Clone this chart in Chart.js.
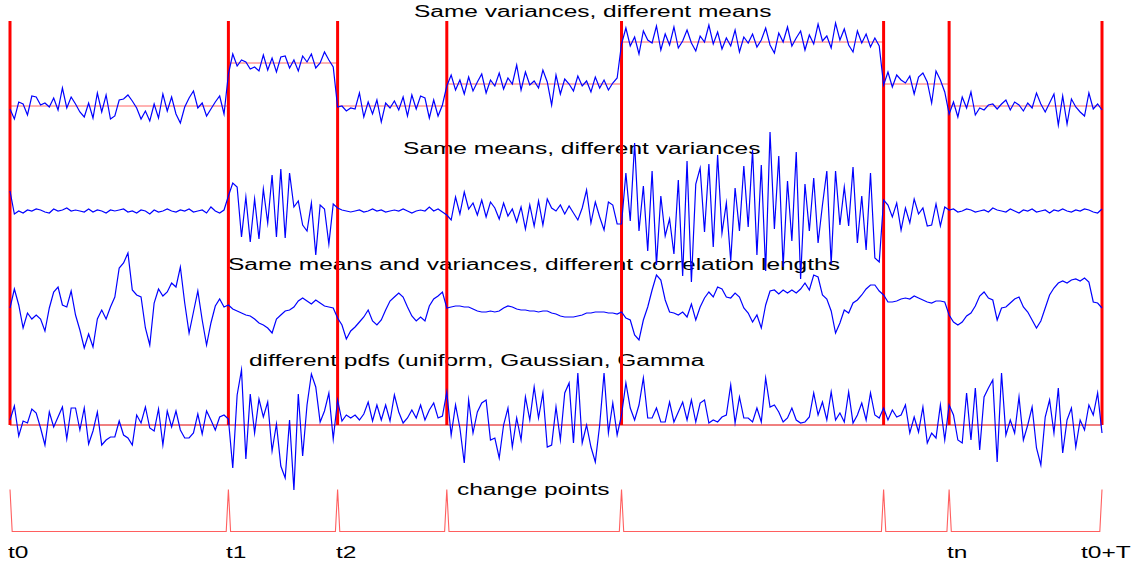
<!DOCTYPE html>
<html>
<head>
<meta charset="utf-8">
<script src="https://cdn.jsdelivr.net/npm/chart.js@4.4.1/dist/chart.umd.min.js"></script>
<style>
    html, body { margin: 0; padding: 0; background: #fff; }
    #wrap { position: relative; width: 1132px; height: 565px; overflow: hidden; }
    #chart { position: absolute; left: 0; top: 0; z-index: 1; }
    .lbl {
        position: absolute; z-index: 0; white-space: nowrap; color: #000;
        font-family: "Liberation Sans", Arial, Helvetica, sans-serif;
        font-size: 16px; line-height: 16px;
        transform: scaleX(1.53); transform-origin: 0 0;
    }
</style>
</head>
<body>
<div id="wrap"><canvas id="chart" width="1132" height="565"></canvas></div>
<script>
// time axis: t0 .. t0+T, one sample every 4 time units
const changePoints = [0, 200, 300, 400, 560, 800, 860, 1000];
const changeLabels = ['t0', 't1', 't2', '', '', '', 'tn', 't0+T'];
const sampleStep = 4;

const panelTitles = [
    'Same variances, different means',
    'Same means, different variances',
    'Same means and variances, different correlation lengths',
    'different pdfs (uniform, Gaussian, Gamma',
    'change points'
];

// segment means of the first signal
const meanLevels = [0, 4.3, 0, 2.2, 6.4, 2.2, 0];

// signal 1: same variances, different means
const sameVarDiffMeans = [
    -0.3, -1.3, 0.4, 0.2, -0.9, 1.0, 0.9, 0.1, 0.3, -0.1,
    0.8, -0.4, 1.8, -0.2, 0.9, 0.2, -0.6, -1.1, 0.3, -1.2,
    1.3, -0.6, 1.1, -1.3, -1.0, 0.6, 0.7, 1.1, 0.5, -0.2,
    -1.3, -0.5, -1.5, 0.2, -1.2, 1.2, -0.5, 0.9, -0.8, -1.7,
    -0.1, 0.8, 1.5, -0.2, 0.3, -1.0, -0.3, 0.4, 1.0, -0.8,
    3.2, 5.2, 4.0, 4.6, 4.4, 3.7, 3.9, 3.5, 5.1, 3.6,
    4.8, 3.4, 4.9, 5.0, 3.8, 4.6, 3.5, 5.0, 4.4, 5.2,
    3.8, 4.3, 5.4, 4.6, 3.9,
    -0.1, 0.0, -0.5, -0.2, -0.3, 1.3, -1.1, 0.4, -0.8, 0.6,
    -1.6, 0.3, -0.2, 0.5, -0.4, 0.9, -1.0, 1.1, -0.3, 1.0,
    0.8, -1.2, 0.6, -1.0, 0.1,
    2.0, 3.1, 1.6, 2.6, 1.2, 2.9, 1.5, 2.4, 3.2, 1.3,
    2.6, 2.0, 3.3, 1.7, 2.8, 2.2, 4.1, 1.6, 3.4, 2.1,
    2.5, 1.8, 3.6, 2.4, 0.1, 3.1, 1.2, 2.7, 2.2, 1.5,
    3.0, 2.0, 2.5, 1.4, 2.9, 1.8, 2.6, 1.6, 2.3, 2.8,
    6.2, 7.8, 6.0, 6.9, 5.2, 7.5, 6.6, 6.3, 8.0, 5.6,
    7.2, 6.1, 7.9, 5.8, 6.5, 7.6, 6.3, 5.5, 7.0, 6.4,
    8.1, 6.2, 7.4, 5.7, 6.8, 6.0, 7.6, 5.4, 6.9, 6.3,
    7.2, 5.9, 6.6, 7.8, 6.1, 5.3, 7.3, 6.4, 7.9, 6.0,
    6.8, 7.5, 5.6, 7.1, 6.2, 8.2, 6.5, 7.0, 5.8, 8.3,
    6.6, 7.7, 6.1, 5.4, 7.5, 6.3, 7.2, 5.9, 6.8, 6.0,
    2.1, 3.4, 1.9, 3.1, 2.6, 2.3, 3.0, 1.2, 2.9, 3.3,
    2.4, 0.3, 3.5, 2.6, 1.4,
    -0.8, 0.4, -1.1, 0.9, -0.2, 1.4, -0.9, -0.2, -0.4, 0.1,
    0.2, -0.3, 0.2, 0.6, -0.4, 0.4, 0.1, -0.5, 0.3, -0.2,
    1.3, 0.2, -0.6, 0.3, 1.2, -1.9, 1.0, -1.8, 0.7, -0.1,
    -0.6, -1.0, 1.3, -0.3, 0.2, -0.4
];

// signal 2: same means, different variances
const sameMeanDiffVars = [
    2.0, -0.3, 0.0, -0.2, 0.1, 0.0, 0.2, 0.1, -0.1, -0.2,
    0.2, 0.0, 0.1, 0.3, 0.0, 0.1, 0.0, -0.1, 0.2, -0.1,
    0.1, 0.0, -0.2, 0.1, 0.0, 0.1, 0.2, -0.1, 0.0, -0.2,
    0.1, 0.0, -0.3, 0.1, -0.1, 0.0, 0.2, 0.0, -0.1, 0.1,
    0.0, 0.2, -0.1, 0.0, 0.1, -0.2, 0.4, 0.0, -0.2, 0.1,
    1.5, 2.8, 2.4, -2.6, 1.4, -3.1, 1.2, -2.8, 2.2, -1.2,
    3.6, -2.6, 4.2, -2.7, 3.8, 0.4, 1.0, -1.4, -2.0, 0.8,
    -4.4, 0.6, 0.2, -3.3, 0.7,
    0.3, 0.1, 0.0, -0.1, 0.0, 0.1, -0.1, 0.0, 0.2, 0.0,
    0.1, -0.1, 0.0, 0.1, 0.0, 0.2, 0.0, -0.2, 0.0, 0.1,
    0.0, 0.4, 0.0, 0.2, -0.1,
    -0.4, -0.9, 1.4, -0.3, 1.9, 0.2, 0.8, -0.4, 1.1, -0.6,
    0.9, 0.3, -0.8, 0.8, -0.5, 0.2, -1.1, 0.4, -1.8, 0.6,
    -1.5, 1.0, -1.4, 1.2, 0.3, 0.0, 0.6, -0.3, 0.5, -0.2,
    -0.9, 0.3, 2.1, -1.2, 0.9, -0.6, -1.9, 0.9, 0.6, -1.3,
    -1.3, 3.8, -1.0, 6.8, -2.0, 2.5, -4.0, 4.0, -5.4, 1.5,
    -2.5, -0.8, -4.3, 3.1, -6.5, 5.0, -7.1, 2.7, 4.3, -2.1,
    4.7, -3.6, 5.6, -2.2, 0.8, -5.0, 2.3, -2.0, 4.5, -1.6,
    6.1, -4.4, 4.6, -6.0, 7.9, -1.8, 5.5, -5.6, 3.0, -3.0,
    5.9, -6.8, 2.7, -2.0, 3.3, -3.2, 0.6, 4.0, -5.3, 4.0,
    -1.4, 2.4, -1.5, 4.4, -3.2, 1.5, -3.9, 3.8, -4.7, -5.1,
    1.1, 0.6, -0.6, 0.8, -1.9, 0.3, -1.2, 1.2, -0.3, 0.3,
    -1.5, -1.4, 0.7, -1.5, 0.4,
    0.1, 0.2, -0.1, 0.0, 0.2, 0.1, -0.1, 0.0, 0.1, -0.1,
    0.3, 0.1, 0.0, -0.1, 0.2, 0.0, -0.2, 0.1, 0.0, 0.2,
    -0.1, 0.0, 0.1, -0.2, 0.1, 0.0, 0.2, 0.0, -0.1, 0.1,
    0.0, 0.2, 0.1, -0.1, -0.2, 0.2
];

// signal 3: same means and variances, different correlation lengths
const diffCorrelation = [
    -0.3, 1.6, 0.0, -2.3, -0.8, -1.4, -1.0, -1.4, -2.6, -0.3,
    1.3, 1.8, 0.0, -0.2, 1.4, -1.0, -2.5, -4.3, -2.9, -4.2,
    -1.4, -0.5, -1.4, -0.2, 0.8, 3.7, 4.2, 5.2, 1.5, 1.0,
    0.8, -2.3, -4.0, 0.2, 1.6, 0.9, 1.3, 2.2, 1.8, 3.8,
    0.2, -2.8, -0.7, 1.4, -1.5, -4.0, -1.8, -0.1, 0.6, -0.2,
    0.0, -0.4, -0.6, -0.8, -1.0, -1.1, -1.4, -1.8, -2.0, -2.3,
    -2.8, -1.4, -1.0, -0.6, -0.5, -0.2, 0.4, 0.7, 0.4, 0.1,
    0.5, 0.2, -0.1, -0.2, -0.3,
    -1.3, -2.0, -3.4, -2.6, -2.2, -1.7, -1.2, -0.5, -1.6, -2.0,
    -1.5, -0.5, 0.4, 0.8, 1.2, 0.8, -0.2, -1.1, -1.6, -1.2,
    -1.6, -0.1, 0.6, 0.9, 1.3,
    -0.3, -0.2, -0.1, -0.1, -0.2, -0.2, -0.4, -0.6, -0.7, -0.7,
    -0.6, -0.7, -0.6, -0.3, -0.1, -0.2, -0.4, -0.5, -0.5, -0.6,
    -0.6, -0.7, -0.6, -0.6, -0.8, -0.9, -1.1, -1.2, -1.2, -1.2,
    -1.1, -1.0, -0.8, -0.8, -0.7, -0.7, -0.7, -0.8, -0.8, -0.9,
    -0.7, -1.3, -1.5, -3.0, -3.5, -1.5, -0.2, 1.5, 3.0, 2.5,
    0.5, -0.7, -0.8, -1.0, -0.7, -1.2, 0.1, -1.5, -0.2, 0.7,
    1.3, 0.8, 1.8, 1.6, 0.8, 0.7, 1.2, 0.8, -0.3, -0.8,
    -1.7, -1.0, -2.3, 0.0, 1.4, 1.5, 1.1, 1.5, 1.2, 1.5,
    1.2, 1.6, 2.2, 1.5, 3.0, 2.8, 1.0, 0.6, -0.6, -2.8,
    -1.8, -0.5, -0.8, 0.2, 0.5, 1.0, 1.6, 2.0, 2.0, 1.4,
    1.0, 0.3, 0.3, 0.4, 0.6, 0.7, 0.6, 0.9, 0.7, 0.5,
    0.3, 0.2, 0.4, 0.4, 0.3,
    -1.0, -1.7, -2.0, -1.7, -1.1, -0.8, -0.1, 0.9, 1.3, 0.7,
    0.5, -1.5, -0.3, -0.2, 0.2, 0.6, 0.8, -0.2, -0.7, -1.5,
    -2.3, -1.6, -0.3, 1.0, 1.7, 2.2, 2.4, 2.2, 2.5, 2.6,
    2.4, 2.7, 2.3, 0.3, 0.2, -0.3
];

// signal 4: different pdfs (uniform, Gaussian, Gamma)
const diffPdfs = [
    0.5, 1.9, -1.1, 0.4, 0.2, 1.6, 1.2, -0.3, -2.0, 1.3,
    -0.2, 0.8, 1.8, -1.4, 1.7, 1.7, -0.5, 1.7, -1.9, -0.6,
    1.3, -2.0, -1.5, -1.2, -1.2, 0.4, -1.0, -1.3, -2.0, 1.0,
    0.2, 1.8, -0.3, -0.6, 1.6, -2.0, 1.4, -0.2, 1.4, -0.5,
    -1.3, -1.3, -0.8, 1.1, -0.9, 1.4, 0.5, -0.5, 0.8, 1.0,
    0.6, -4.3, 3.0, 5.5, -3.4, 3.1, -0.8, 2.6, 0.8, 2.3,
    -2.6, 0.1, -4.1, -5.3, 0.5, -6.5, 3.1, -3.1, 2.0, 5.1,
    3.8, 0.3, 1.4, 3.2, -1.4,
    2.5, 0.4, 1.0, 0.7, 1.0, 0.5, 1.1, 2.3, 0.4, 2.0,
    0.5, 2.0, 0.4, 3.0, 1.3, 0.2, 0.7, 1.5, 0.7, 2.0,
    0.5, 1.5, 2.2, 0.7, 0.9,
    3.3, -1.0, 2.0, -0.3, -3.8, 2.5, -0.8, 1.3, 2.2, 2.5,
    -1.5, -1.3, -3.3, 0.0, 1.7, -2.2, 0.7, -1.5, 2.8, 0.5,
    3.8, 0.7, 3.2, -2.2, -2.0, 1.8, -1.5, 3.2, 4.2, -1.8,
    5.2, -1.8, 0.0, -2.2, -3.7, 0.0, 5.2, -0.8, 2.2, -1.0,
    1.0, 4.2, 1.7, 0.5, 2.0, 4.7, 0.7, 0.7, 1.7, 0.3,
    0.3, 2.3, 0.3, 1.3, 2.3, 0.5, 2.5, 0.3, 2.2, 2.5,
    0.2, 0.5, 0.3, 0.8, 1.0, 4.0, 0.2, 2.8, 0.7, 0.7,
    0.3, 1.7, 0.3, 4.7, 1.8, 2.0, 1.3, 0.3, 0.7, 1.7,
    0.5, 0.2, 0.3, 0.8, 3.2, 1.0, 2.3, 0.5, 3.3, 0.5,
    1.2, 0.3, 3.3, 0.2, 1.0, 2.2, 0.5, 3.2, 1.0, 0.7,
    1.7, 0.5, 1.5, 0.8, 1.0, 2.0, -0.8, 0.8, -0.7, 1.8,
    -1.8, -0.8, -1.3, 2.0, -1.5,
    2.0, 1.0, -1.5, -1.8, 3.2, -1.5, 3.7, -2.5, 2.8, 3.7,
    4.5, -3.7, 5.2, -1.0, 0.5, -0.8, 2.8, -1.5, 0.0, 1.8,
    -2.3, -4.0, 0.8, 2.5, -0.8, 3.7, -2.8, 0.5, 1.7, -2.2,
    0.5, -0.5, 2.0, 1.0, 3.2, -0.8
];

// vertical placement of each strip on the shared y scale
const lane = { means: 45.9, variances: 35.4, correlation: 26.0, pdfs: 14.0, changes: 3.35 };
const spikeHeight = 4.2;
const spikeHalfWidth = 2;
const redTop = 54.4;

const blue = '#0000ff';
const red = '#ff0000';

function series(values, offset) {
    return values.map((v, i) => ({ x: i * sampleStep, y: v + offset }));
}

function line(data, color, width, order) {
    return {
        data: data, borderColor: color, borderWidth: width, order: order,
        pointRadius: 0, tension: 0, fill: false, clip: false
    };
}

const datasets = [
    line(series(sameVarDiffMeans, lane.means), blue, 1.2, 0),
    line(series(sameMeanDiffVars, lane.variances), blue, 1.2, 0),
    line(series(diffCorrelation, lane.correlation), blue, 1.2, 0),
    line(series(diffPdfs, lane.pdfs), blue, 1.2, 0)
];

// segment means of signal 1
meanLevels.forEach((m, k) => {
    datasets.push(line([
        { x: changePoints[k], y: lane.means + m },
        { x: changePoints[k + 1], y: lane.means + m }
    ], 'rgba(255,0,0,0.6)', 1, 1));
});

// zero line of the pdf strip
datasets.push(line([
    { x: changePoints[0], y: lane.pdfs },
    { x: changePoints[changePoints.length - 1], y: lane.pdfs }
], '#e00000', 1, 1));

// change point markers
changePoints.forEach((cp) => {
    datasets.push(line([{ x: cp, y: lane.pdfs }, { x: cp, y: redTop }], red, 3, 2));
});

// change point indicator trace
const spikes = [];
changePoints.forEach((cp, k) => {
    if (k > 0) spikes.push({ x: cp - spikeHalfWidth, y: lane.changes });
    spikes.push({ x: cp, y: lane.changes + spikeHeight });
    if (k < changePoints.length - 1) spikes.push({ x: cp + spikeHalfWidth, y: lane.changes });
});
datasets.push(line(spikes, 'rgb(255,95,95)', 1.1, 1));

const chart = new Chart(document.getElementById('chart').getContext('2d'), {
    type: 'line',
    data: { datasets: datasets },
    options: {
        responsive: false,
        animation: false,
        devicePixelRatio: 1,
        layout: { padding: { left: 10, right: 30, top: 0, bottom: 0 } },
        plugins: { legend: { display: false }, tooltip: { enabled: false } },
        scales: {
            x: { type: 'linear', min: 0, max: 1000, display: false },
            y: { type: 'linear', min: 0, max: 56.5, display: false }
        }
    }
});

// text sits under the transparent canvas, like in the original figure
const wrap = document.getElementById('wrap');
function addLabel(text, left, baseline) {
    const el = document.createElement('div');
    el.className = 'lbl';
    el.textContent = text;
    el.style.left = left + 'px';
    el.style.top = (baseline - 13.5) + 'px';
    wrap.appendChild(el);
    return el;
}

const titleAnchors = [[414, 17], [403, 154], [228, 270.5], [249, 366.7], [457, 495.5]];
panelTitles.forEach((t, i) => addLabel(t, titleAnchors[i][0], titleAnchors[i][1]));

changeLabels.forEach((t, i) => {
    if (!t) return;
    const px = chart.scales.x.getPixelForValue(changePoints[i]);
    const el = addLabel(t, px - 2, 558);
    const w = el.getBoundingClientRect().width;
    if (px - 2 + w > 1131) el.style.left = (1131 - w) + 'px';
});
</script>
</body>
</html>
